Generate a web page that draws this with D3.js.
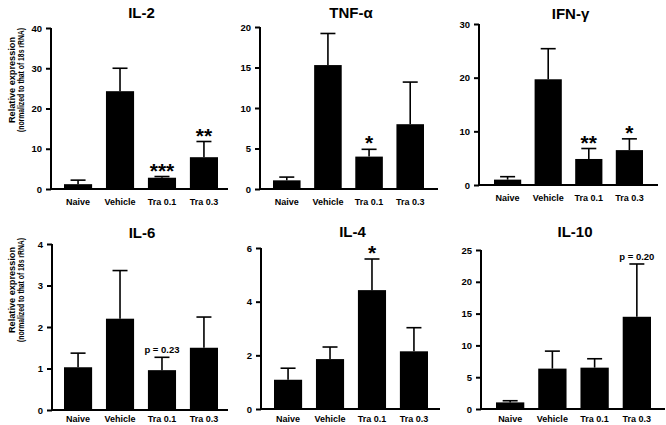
<!DOCTYPE html>
<html>
<head>
<meta charset="utf-8">
<script src="https://cdn.jsdelivr.net/npm/d3@7"></script>
<style>
  html, body { margin: 0; padding: 0; background: #fff; }
  svg { display: block; }
  text { font-family: "Liberation Sans", Arial, sans-serif; font-weight: bold; fill: #000; }
</style>
</head>
<body>
<svg id="chart" width="666" height="425"></svg>
<script>
const categories = ["Naive", "Vehicle", "Tra 0.1", "Tra 0.3"];
const titles = ["IL-2", "TNF-\u03b1", "IFN-\u03b3", "IL-6", "IL-4", "IL-10"];

const il2Mean   = [1.2, 24.3, 2.8, 7.9];
const il2Err    = [1.0, 5.7, 0.3, 3.9];
const tnfMean   = [1.07, 15.3, 4.0, 8.0];
const tnfErr    = [0.4, 3.9, 0.9, 5.2];
const ifnMean   = [1.0, 19.7, 4.85, 6.5];
const ifnErr    = [0.55, 5.7, 1.95, 2.1];
const il6Mean   = [1.03, 2.2, 0.96, 1.5];
const il6Err    = [0.34, 1.16, 0.31, 0.74];
const il4Mean   = [1.09, 1.86, 4.43, 2.15];
const il4Err    = [0.43, 0.45, 1.16, 0.88];
const il10Mean  = [1.04, 6.35, 6.5, 14.5];
const il10Err   = [0.26, 2.75, 1.4, 8.3];

const yMaxes = [40, 20, 30, 4, 6, 25];
const tickSteps = [
  [0, 10, 20, 30, 40],
  [0, 5, 10, 15, 20],
  [0, 10, 20, 30],
  [0, 1, 2, 3, 4],
  [0, 2, 4, 6],
  [0, 5, 10, 15, 20, 25]
];
// annotations: [category index, label]
const il2Notes  = [[2, "***"], [3, "**"]];
const tnfNotes  = [[2, "*"]];
const ifnNotes  = [[2, "**"], [3, "*"]];
const il6Notes  = [[2, "p = 0.23"]];
const il4Notes  = [[2, "*"]];
const il10Notes = [[3, "p = 0.20"]];

const yAxisTitle1 = "Relative expression";
const yAxisTitle2 = "(normalized to that of 18s rRNA)";

const means = [il2Mean, tnfMean, ifnMean, il6Mean, il4Mean, il10Mean];
const errs  = [il2Err, tnfErr, ifnErr, il6Err, il4Err, il10Err];
const notes = [il2Notes, tnfNotes, ifnNotes, il6Notes, il4Notes, il10Notes];

// layout (pixel geometry)
const layout = [
  {ax: 51,  axEnd: 228, b0: 64,  b1: 218, yT: 28,  yB: 189, tY: 18, lY: 205},
  {ax: 260, axEnd: 438, b0: 273, b1: 424, yT: 27,  yB: 189, tY: 18, lY: 205},
  {ax: 479, axEnd: 658, b0: 494, b1: 643, yT: 24,  yB: 185, tY: 19, lY: 201},
  {ax: 52,  axEnd: 228, b0: 64,  b1: 218, yT: 244, yB: 410, tY: 238, lY: 422},
  {ax: 261, axEnd: 440, b0: 274, b1: 428, yT: 248, yB: 409, tY: 237, lY: 422},
  {ax: 481, axEnd: 665, b0: 496, b1: 651, yT: 250, yB: 409, tY: 237, lY: 422}
];

const svg = d3.select("#chart");

layout.forEach((L, i) => {
  const g = svg.append("g");
  const x = d3.scaleBand().domain(categories).range([L.b0, L.b1]).paddingInner(0.33).paddingOuter(0);
  const y = d3.scaleLinear().domain([0, yMaxes[i]]).range([L.yB, L.yT]);

  // bars
  g.selectAll("rect.bar").data(categories).join("rect")
    .attr("x", d => x(d))
    .attr("y", (d, j) => y(means[i][j]))
    .attr("width", x.bandwidth())
    .attr("height", (d, j) => y(0) - y(means[i][j]))
    .attr("fill", "#000");

  // error bars
  const capW = 15;
  const eb = g.selectAll("g.err").data(categories).join("g");
  eb.append("line")
    .attr("x1", d => x(d) + x.bandwidth() / 2)
    .attr("x2", d => x(d) + x.bandwidth() / 2)
    .attr("y1", (d, j) => y(means[i][j]))
    .attr("y2", (d, j) => y(means[i][j] + errs[i][j]))
    .attr("stroke", "#000").attr("stroke-width", 1.6);
  eb.append("line")
    .attr("x1", d => x(d) + x.bandwidth() / 2 - capW / 2)
    .attr("x2", d => x(d) + x.bandwidth() / 2 + capW / 2)
    .attr("y1", (d, j) => y(means[i][j] + errs[i][j]))
    .attr("y2", (d, j) => y(means[i][j] + errs[i][j]))
    .attr("stroke", "#000").attr("stroke-width", 1.6);

  // y axis
  const yAxis = d3.axisLeft(y).tickValues(tickSteps[i]).tickSize(5).tickPadding(4).tickFormat(d3.format("d"));
  const ya = g.append("g").attr("transform", `translate(${L.ax},0)`).call(yAxis);
  ya.select(".domain").attr("stroke-width", 2).attr("d", `M0,${L.yT}V${L.yB}`);
  ya.selectAll(".tick line").attr("stroke-width", 2);
  ya.selectAll(".tick text").style("font-size", "9.5px").style("font-weight", "bold")
    .style("font-family", "'Liberation Sans', Arial, sans-serif");

  // x axis line
  g.append("line")
    .attr("x1", L.ax - 1).attr("x2", L.axEnd)
    .attr("y1", L.yB).attr("y2", L.yB)
    .attr("stroke", "#000").attr("stroke-width", 2);

  // category labels
  g.selectAll("text.cat").data(categories).join("text")
    .attr("class", "cat")
    .attr("x", d => x(d) + x.bandwidth() / 2)
    .attr("y", L.lY)
    .attr("text-anchor", "middle")
    .style("font-size", "9px")
    .text(d => d);

  // title
  g.append("text")
    .attr("x", (L.ax + L.axEnd) / 2 + 2)
    .attr("y", L.tY)
    .attr("text-anchor", "middle")
    .style("font-size", "15px")
    .text(titles[i]);

  // annotations
  notes[i].forEach(([j, label]) => {
    const cx = x(categories[j]) + x.bandwidth() / 2;
    const capY = y(means[i][j] + errs[i][j]);
    if (label.startsWith("p")) {
      g.append("text").attr("x", cx).attr("y", capY - 4)
        .attr("text-anchor", "middle").style("font-size", "9.5px").text(label);
    } else {
      g.append("text").attr("x", cx).attr("y", capY + 1)
        .attr("text-anchor", "middle").style("font-size", "21px").text(label);
    }
  });

  // y axis titles (left column only)
  if (i === 0 || i === 3) {
    const cy = i === 0 ? 80 : 290;
    g.append("text")
      .attr("transform", `translate(15,${cy}) rotate(-90)`)
      .attr("text-anchor", "middle")
      .style("font-size", "8.5px")
      .attr("textLength", 86).attr("lengthAdjust", "spacingAndGlyphs")
      .text(yAxisTitle1);
    g.append("text")
      .attr("transform", `translate(23.5,${cy}) rotate(-90)`)
      .attr("text-anchor", "middle")
      .style("font-size", "8.5px")
      .attr("textLength", 104).attr("lengthAdjust", "spacingAndGlyphs")
      .text(yAxisTitle2);
  }
});
</script>
</body>
</html>
